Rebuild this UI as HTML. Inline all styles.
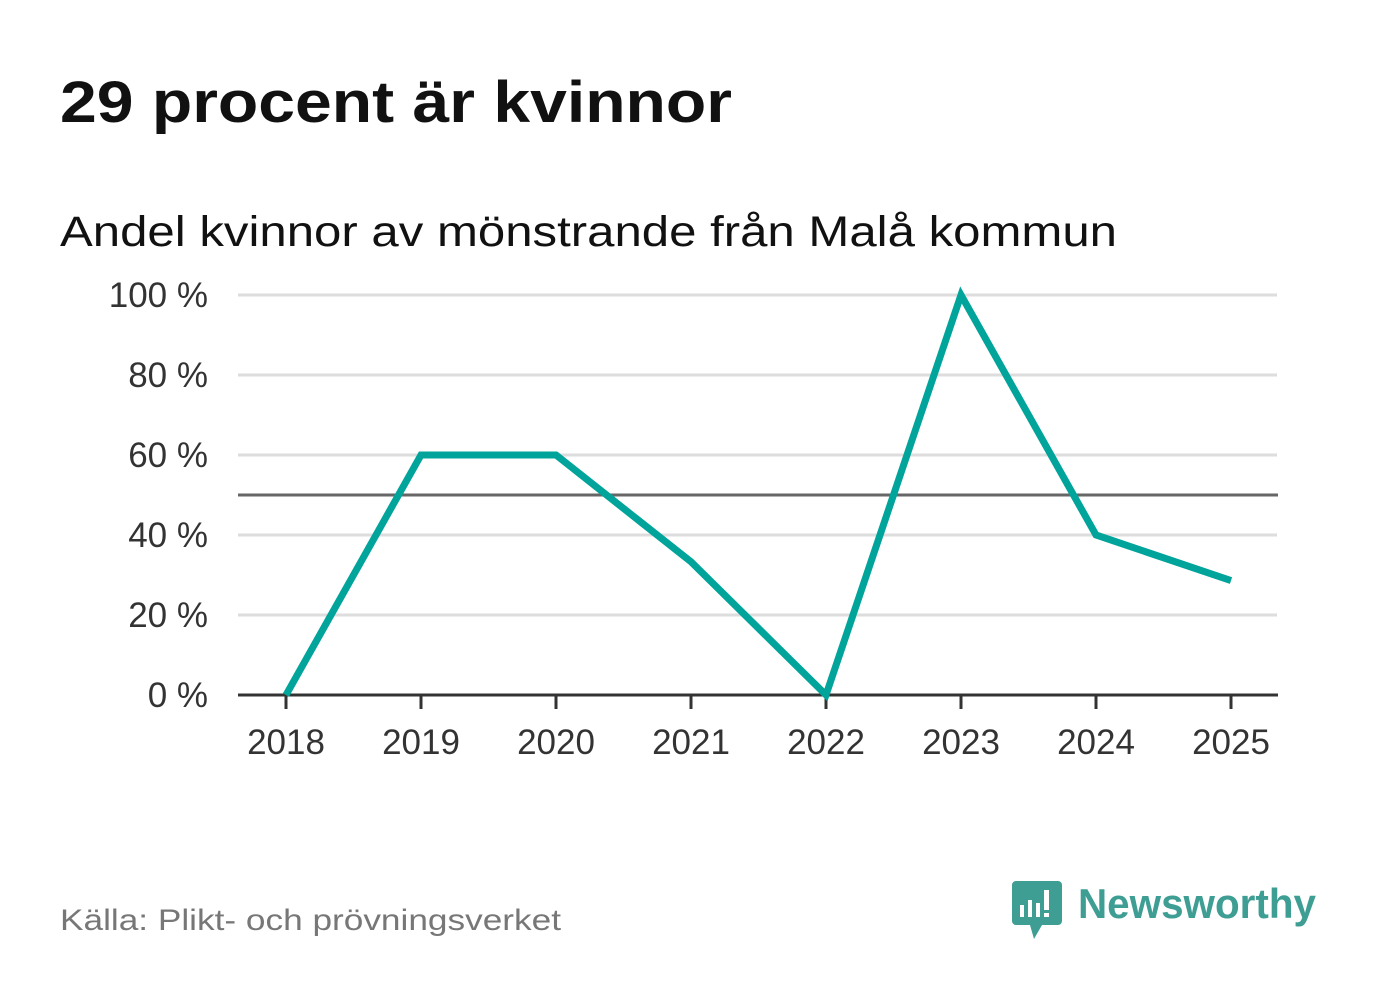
<!DOCTYPE html>
<html><head><meta charset="utf-8"><style>
body{margin:0;width:1382px;height:999px;background:#fff;font-family:"Liberation Sans","DejaVu Sans",sans-serif;overflow:hidden}
</style></head><body>
<svg width="1382" height="999">
<text x="60" y="122" font-size="58" font-weight="bold" fill="#111" textLength="672" lengthAdjust="spacingAndGlyphs">29 procent är kvinnor</text>
<text x="60" y="246" font-size="43" fill="#111" textLength="1057" lengthAdjust="spacingAndGlyphs">Andel kvinnor av mönstrande från Malå kommun</text>
<g id="grid"></g><g id="xaxis"></g>
<path id="line" fill="none" stroke="#00a49a" stroke-width="7" stroke-linejoin="miter"/>
<text x="60" y="930" font-size="30" fill="#777" textLength="501" lengthAdjust="spacingAndGlyphs">Källa: Plikt- och prövningsverket</text>
<g>
<path d="M1016 881h42a4 4 0 0 1 4 4v36a4 4 0 0 1-4 4h-16l-8 14-4-14h-14a4 4 0 0 1-4-4v-36a4 4 0 0 1 4-4z" fill="#3e9e94"/>
<rect x="1020" y="905" width="4" height="12" fill="#fff"/><rect x="1028" y="900" width="4" height="17" fill="#fff"/><rect x="1036" y="903" width="4" height="14" fill="#fff"/><rect x="1044" y="890" width="5" height="20" fill="#fff"/><rect x="1044" y="913" width="5" height="4" fill="#fff"/>
<text x="1078" y="918" font-size="42" font-weight="bold" fill="#3e9e94" textLength="238" lengthAdjust="spacingAndGlyphs">Newsworthy</text>
</g>
</svg>
<script>
const years=["2018","2019","2020","2021","2022","2023","2024","2025"];
const values=[0,60,60,33.3,0,100,40,28.6];
const yTicks=[0,20,40,60,80,100];
const refValue=50;
const ns="http://www.w3.org/2000/svg";
const x=i=>286+i*135, y=v=>695-v*4;
const grid=document.getElementById('grid'), xa=document.getElementById('xaxis');
function mk(tag,attrs,parent){const e=document.createElementNS(ns,tag);for(const k in attrs)e.setAttribute(k,attrs[k]);parent.appendChild(e);return e;}
yTicks.forEach(t=>{
 if(t>0){const l=mk('line',{x1:238,x2:1277,y1:y(t),y2:y(t),stroke:'#ddd','stroke-width':3},grid);
 
 }
 const tx=mk('text',{x:208,y:y(t)+12,'text-anchor':'end','font-size':35,fill:'#333'},grid);tx.textContent=t+' %';
 
 
});
const r=mk('line',{x1:238,x2:1278,y1:y(refValue),y2:y(refValue),stroke:'#666','stroke-width':3},grid);


const ax=mk('line',{x1:238,x2:1278,y1:695,y2:695,stroke:'#333','stroke-width':3},xa);


years.forEach((yr,i)=>{
 const tk=mk('line',{x1:x(i),x2:x(i),y1:695,y2:709,stroke:'#333','stroke-width':3},xa);
 
 
 const tx=mk('text',{x:x(i),y:754,'text-anchor':'middle','font-size':35,fill:'#333'},xa);tx.textContent=yr;
 
 
});
document.getElementById('line').setAttribute('d',values.map((v,i)=>(i?'L':'M')+x(i)+' '+y(v)).join(''));
</script>
</body></html>
